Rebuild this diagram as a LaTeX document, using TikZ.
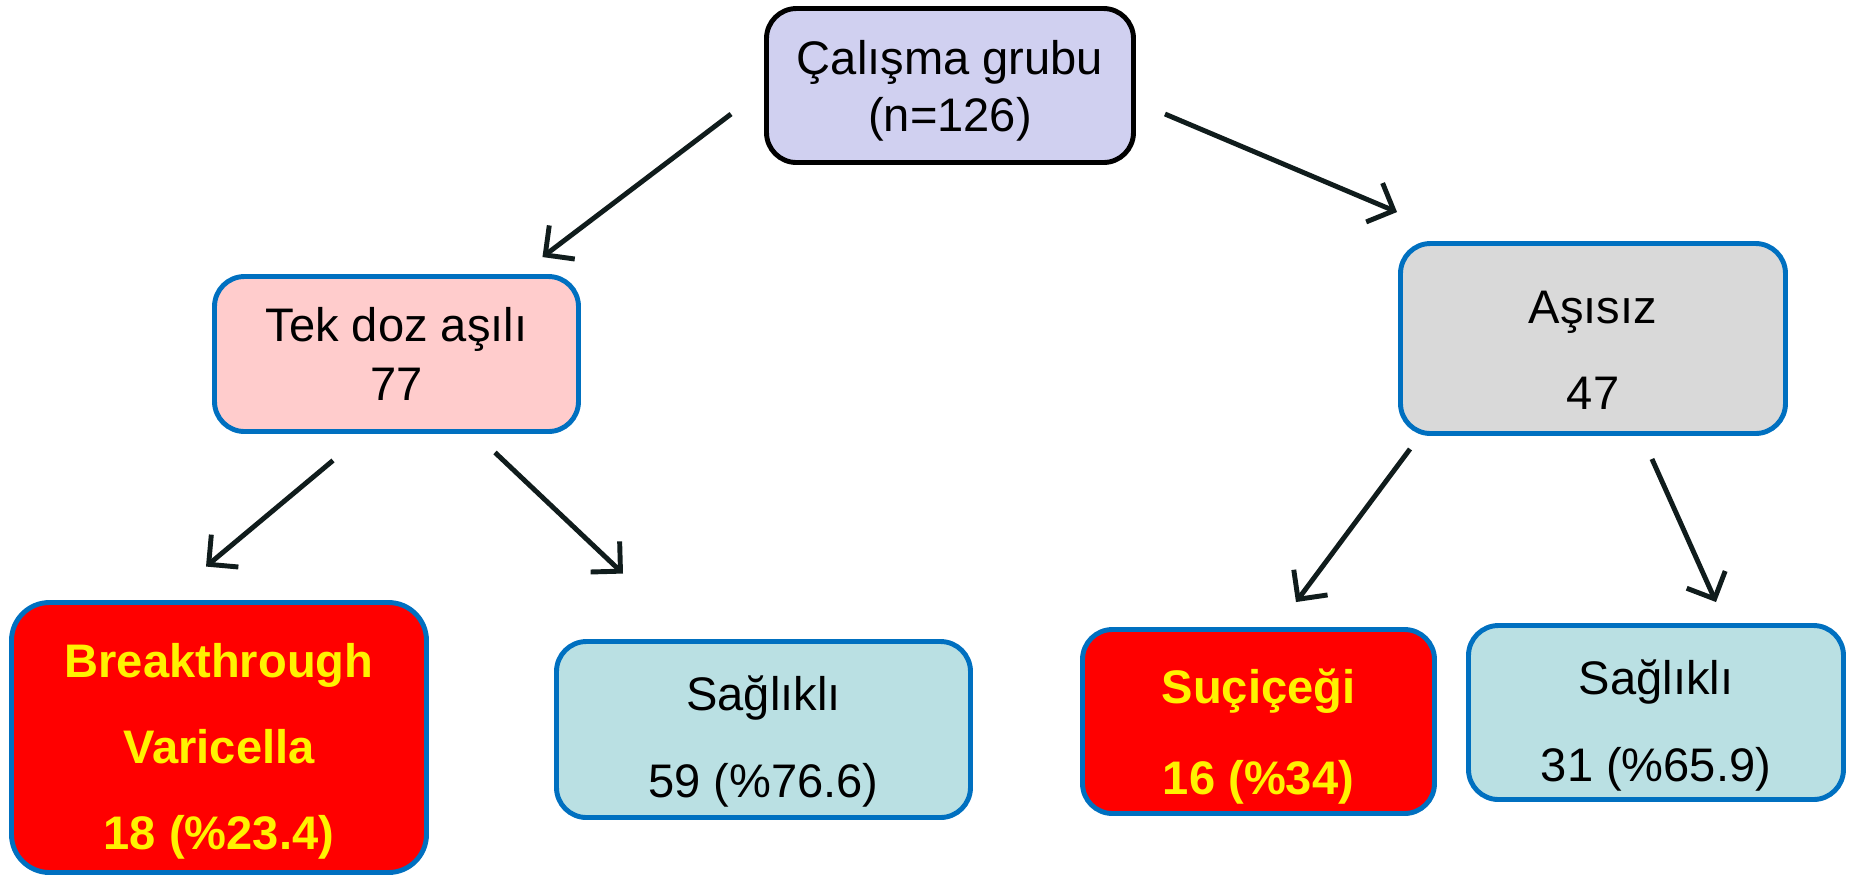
\documentclass[tikz,border=0pt]{standalone}
\usepackage{fontspec}
\setmainfont{Liberation Sans}
\usepackage{tikz}
\usetikzlibrary{arrows.meta}
\definecolor{lavender}{RGB}{208,208,240}
\definecolor{pinkbox}{RGB}{255,204,204}
\definecolor{greybox}{RGB}{217,217,217}
\definecolor{cyanbox}{RGB}{186,224,227}
\definecolor{bluebord}{RGB}{0,112,192}
\definecolor{arrowcol}{RGB}{16,28,28}

\begin{document}
\begin{tikzpicture}[
    box/.style={draw=bluebord, line width=1.4pt, rounded corners=0.3cm},
    txt/.style={align=center, inner sep=0pt, font=\fontsize{13.4}{24.5}\selectfont},
    hittxt/.style={txt, text=yellow, font=\fontsize{13.4}{24.5}\selectfont\bfseries},
    arr/.style={draw=arrowcol, line width=1.4pt, -{Straight Barb[length=6pt,width=12pt]}}
  ]
  \useasboundingbox (0,0) rectangle (18.49,-8.79);

  % top of the tree
  \node[draw=black, line width=1.4pt, rounded corners=0.3cm, fill=lavender,
        minimum width=3.67cm, minimum height=1.54cm] (grup) at (9.50,-0.855) {};
  \node[txt, font=\fontsize{13.4}{16.2}\selectfont] (gruptxt) at ([yshift=-0.05cm]grup.center) {Çalışma grubu\\(n=126)};

  % second row
  \node[box, fill=pinkbox, minimum width=3.64cm, minimum height=1.55cm] (tek) at (3.965,-3.54) {};
  \node[txt, font=\fontsize{13.4}{16.8}\selectfont] (tektxt) at (tek.center) {Tek doz aşılı\\77};
  \node[box, fill=greybox, minimum width=3.85cm, minimum height=1.90cm] (asi) at (15.93,-3.385) {};
  \node[txt] (asitxt) at ([yshift=-0.12cm]asi.center) {Aşısız\\47};

  % outcomes
  \node[box, fill=red, rounded corners=0.38cm, minimum width=4.15cm, minimum height=2.70cm] (brk) at (2.19,-7.375) {};
  \node[hittxt] (brktxt) at ([yshift=-0.14cm]brk.center) {Breakthrough\\Varicella\\18 (\%23.4)};
  \node[box, fill=cyanbox, minimum width=4.14cm, minimum height=1.76cm] (sag1) at (7.635,-7.295) {};
  \node[txt] (sag1txt) at ([yshift=-0.12cm]sag1.center) {Sağlıklı\\59 (\%76.6)};
  \node[box, fill=red, minimum width=3.52cm, minimum height=1.84cm] (suc) at (12.585,-7.215) {};
  \node[hittxt, font=\fontsize{13.4}{25.9}\selectfont\bfseries] (suctxt) at ([yshift=-0.15cm]suc.center) {Suçiçeği\\16 (\%34)};
  \node[box, fill=cyanbox, minimum width=3.75cm, minimum height=1.74cm] (sag2) at (16.56,-7.125) {};
  \node[txt, font=\fontsize{13.4}{25}\selectfont] (sag2txt) at ([yshift=-0.13cm]sag2.center) {Sağlıklı\\31 (\%65.9)};

  \draw[arr] ([shift={(-0.33,-0.285)}]grup.west) -- ([shift={(-0.385,0.17)}]tek.north east);
  \draw[arr] ([shift={(0.29,-0.285)}]grup.east) -- ([shift={(-0.01,0.29)}]asi.north west);
  \draw[arr] ([shift={(-0.635,-0.265)}]tek.south) -- ([shift={(-0.13,0.335)}]brk.north);
  \draw[arr] ([shift={(0.985,-0.185)}]tek.south) -- ([shift={(-1.405,0.655)}]sag1.north);
  \draw[arr] ([shift={(0.12,-0.13)}]asi.south west) -- ([shift={(0.375,0.25)}]suc.north);
  \draw[arr] ([shift={(-1.36,-0.23)}]asi.south east) -- ([shift={(0.60,0.21)}]sag2.north);
\end{tikzpicture}
\end{document}
